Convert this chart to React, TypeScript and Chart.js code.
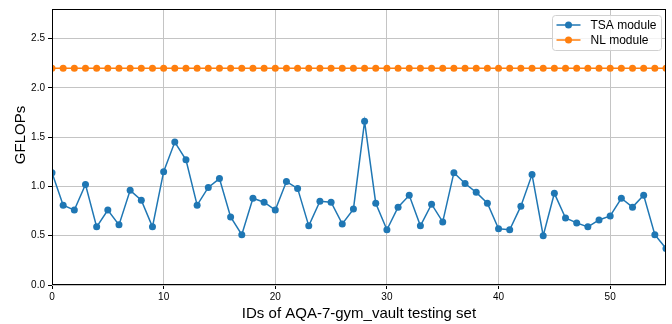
import React, { useEffect, useRef } from 'react';
import { Chart, registerables } from 'chart.js';

Chart.register(...registerables);

const sampleIds = [
  0, 1, 2, 3, 4, 5, 6, 7, 8, 9, 10, 11, 12, 13, 14, 15, 16, 17, 18, 19,
  20, 21, 22, 23, 24, 25, 26, 27, 28, 29, 30, 31, 32, 33, 34, 35, 36, 37, 38, 39,
  40, 41, 42, 43, 44, 45, 46, 47, 48, 49, 50, 51, 52, 53, 54, 55,
];

const tsaValues = [
  1.14, 0.81, 0.76, 1.02, 0.59, 0.76, 0.61, 0.96, 0.86, 0.59,
  1.15, 1.45, 1.27, 0.81, 0.99, 1.08, 0.69, 0.51, 0.88, 0.84,
  0.76, 1.05, 0.98, 0.60, 0.85, 0.84, 0.62, 0.77, 1.66, 0.83,
  0.56, 0.79, 0.91, 0.60, 0.82, 0.64, 1.14, 1.03, 0.94, 0.83,
  0.57, 0.56, 0.80, 1.12, 0.50, 0.93, 0.68, 0.63, 0.59, 0.66,
  0.70, 0.88, 0.79, 0.91, 0.51, 0.37,
];

const nlValues = [
  2.2, 2.2, 2.2, 2.2, 2.2, 2.2, 2.2, 2.2, 2.2, 2.2,
  2.2, 2.2, 2.2, 2.2, 2.2, 2.2, 2.2, 2.2, 2.2, 2.2,
  2.2, 2.2, 2.2, 2.2, 2.2, 2.2, 2.2, 2.2, 2.2, 2.2,
  2.2, 2.2, 2.2, 2.2, 2.2, 2.2, 2.2, 2.2, 2.2, 2.2,
  2.2, 2.2, 2.2, 2.2, 2.2, 2.2, 2.2, 2.2, 2.2, 2.2,
  2.2, 2.2, 2.2, 2.2, 2.2, 2.2,
];

const seriesLabels = ['TSA module', 'NL module'];
const seriesColors = ['#1f77b4', '#ff7f0e'];
const xTitle = 'IDs of AQA-7-gym_vault testing set';
const yTitle = 'GFLOPs';

const FONT = "'Liberation Sans', Arial, sans-serif";

const frameAndLegend = {
  id: 'frameAndLegend',
  afterDatasetsDraw(chart: any) {
    const ctx = chart.ctx;
    const { left, right, top, bottom } = chart.chartArea;
    ctx.save();
    ctx.strokeStyle = '#000';
    ctx.lineWidth = 1;
    ctx.strokeRect(Math.round(left) + 0.5, Math.round(top) + 0.5, Math.round(right - left) - 1, Math.round(bottom - top) - 1);
    ctx.restore();
  },
  afterDraw(chart: any) {
    const ctx = chart.ctx;
    const { right, top } = chart.chartArea;
    // y-axis title
    ctx.save();
    ctx.translate(21, 135);
    ctx.rotate(-Math.PI / 2);
    ctx.fillStyle = '#000';
    ctx.font = `15px ${FONT}`;
    ctx.textAlign = 'center';
    ctx.textBaseline = 'middle';
    ctx.fillText(yTitle, 0, 0);
    ctx.restore();
    // legend
    const w = 109;
    const h = 35;
    const bx = right - 4.5 - w;
    const by = top + 6.5;
    ctx.save();
    ctx.beginPath();
    const r = 3;
    ctx.moveTo(bx + r, by);
    ctx.lineTo(bx + w - r, by);
    ctx.arcTo(bx + w, by, bx + w, by + r, r);
    ctx.lineTo(bx + w, by + h - r);
    ctx.arcTo(bx + w, by + h, bx + w - r, by + h, r);
    ctx.lineTo(bx + r, by + h);
    ctx.arcTo(bx, by + h, bx, by + h - r, r);
    ctx.lineTo(bx, by + r);
    ctx.arcTo(bx, by, bx + r, by, r);
    ctx.closePath();
    ctx.fillStyle = 'rgba(255,255,255,0.8)';
    ctx.fill();
    ctx.strokeStyle = '#d0d0d0';
    ctx.lineWidth = 1;
    ctx.stroke();
    chart.data.datasets.forEach((ds: any, i: number) => {
      const cy = by + 9.5 + i * 15;
      const lx = bx + 4;
      ctx.strokeStyle = ds.borderColor;
      ctx.lineWidth = 1.5;
      ctx.beginPath();
      ctx.moveTo(lx, cy);
      ctx.lineTo(lx + 24, cy);
      ctx.stroke();
      ctx.fillStyle = ds.borderColor;
      ctx.beginPath();
      ctx.arc(lx + 12, cy, 3.5, 0, Math.PI * 2);
      ctx.fill();
      ctx.fillStyle = '#000';
      ctx.font = `12px ${FONT}`;
      ctx.textBaseline = 'middle';
      ctx.textAlign = 'left';
      ctx.fillText(ds.label, lx + 34, cy + 0.5);
    });
    ctx.restore();
  },
};

export default function App() {
  const canvasRef = useRef<HTMLCanvasElement | null>(null);

  useEffect(() => {
    document.body.style.margin = '0';
    const canvas = canvasRef.current;
    if (!canvas) return;
    const makeData = (vals: number[]) => sampleIds.map((id, i) => ({ x: id, y: vals[i] }));
    const chart = new Chart(canvas, {
      type: 'line',
      data: {
        datasets: [tsaValues, nlValues].map((vals, i) => ({
          label: seriesLabels[i],
          data: makeData(vals),
          borderColor: seriesColors[i],
          backgroundColor: seriesColors[i],
          pointBackgroundColor: seriesColors[i],
          pointBorderColor: seriesColors[i],
          borderWidth: 1.5,
          pointRadius: 3.5,
          pointBorderWidth: 0,
          tension: 0,
          fill: false,
        })),
      },
      options: {
        animation: false,
        responsive: false,
        devicePixelRatio: 1,
        layout: { padding: { left: 0, right: 6, top: 5, bottom: 0 } },
        plugins: {
          legend: { display: false },
          tooltip: { enabled: false },
        },
        scales: {
          x: {
            type: 'linear',
            min: 0,
            max: 55,
            border: { display: false },
            grid: { color: '#c4c4c4', lineWidth: 1, tickColor: '#000', tickLength: 4 },
            ticks: {
              stepSize: 10,
              includeBounds: false,
              padding: 2,
              color: '#000',
              font: { family: FONT, size: 10 },
              maxRotation: 0,
            },
            title: {
              display: true,
              text: xTitle,
              color: '#000',
              font: { family: FONT, size: 15 },
              padding: { top: 2, bottom: 1 },
            },
            afterFit: (scale: any) => {
              scale.height = 39;
            },
          },
          y: {
            type: 'linear',
            min: 0,
            max: 2.8,
            border: { display: false },
            grid: { color: '#c4c4c4', lineWidth: 1, tickColor: '#000', tickLength: 4 },
            ticks: {
              stepSize: 0.5,
              includeBounds: false,
              padding: 3,
              color: '#000',
              font: { family: FONT, size: 10 },
              callback: (v: any) => Number(v).toFixed(1),
            },
            title: { display: false },
            afterFit: (scale: any) => {
              scale.width = 52;
            },
          },
        },
      },
      plugins: [frameAndLegend],
    });
    return () => chart.destroy();
  }, []);

  return (
    <div style={{ width: 672, height: 324 }}>
      <canvas ref={canvasRef} width={672} height={324} style={{ display: 'block', width: 672, height: 324 }} />
    </div>
  );
}
